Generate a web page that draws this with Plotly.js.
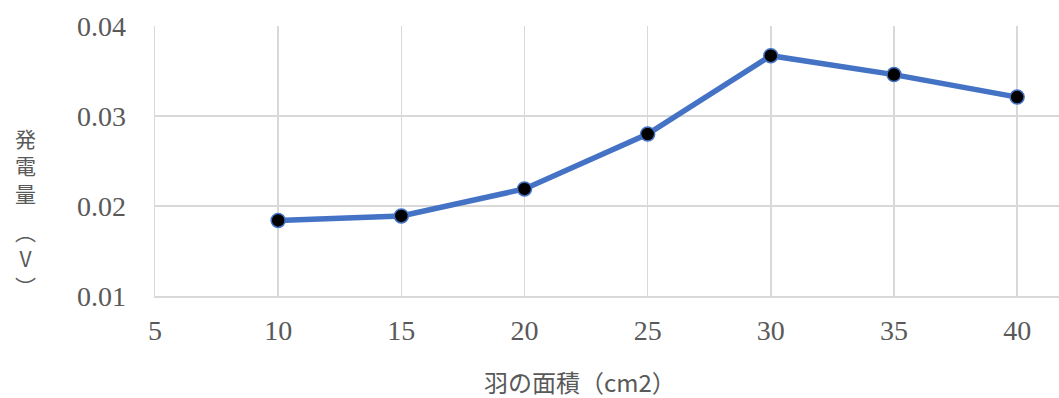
<!DOCTYPE html>
<html>
<head>
<meta charset="utf-8">
<script src="https://cdn.plot.ly/plotly-3.0.1.min.js"></script>
<style>
  html, body { margin: 0; padding: 0; background: #fff; }
  #chart { width: 1059px; height: 398px; }
</style>
</head>
<body>
<div id="chart"></div>
<script>
// 羽の面積 (cm2) と発電量 (V)
const wingArea = [10, 15, 20, 25, 30, 35, 40];
const voltage = [0.0184, 0.0189, 0.0219, 0.0280, 0.0367, 0.0346, 0.0321];

const xTitle = '羽の面積（cm2）';
// vertical y-axis title, stacked glyph by glyph in two groups
const yTitleName = ['発', '電', '量'];
const yTitleUnit = ['︵', 'V', '︶'];

const gray = '#595959';
const gridColor = '#d9d9d9';
const plotTop = 26, plotBottom = 296, plotLeft = 155, plotWidth = 904;

const trace = {
  x: wingArea,
  y: voltage,
  type: 'scatter',
  mode: 'lines+markers',
  line: { color: '#4472C4', width: 5.5 },
  marker: { size: 14, color: '#000000', line: { color: '#4472C4', width: 1.5 } },
  hoverinfo: 'x+y'
};

const toPaperY = px => (plotBottom - px) / (plotBottom - plotTop);
const titleFont = { family: 'Noto Sans CJK JP', size: 21, color: gray };

const annotations = [
  {
    text: yTitleName.join('<br>'),
    xref: 'paper', yref: 'paper',
    x: 0, y: toPaperY(165), xshift: -130,
    xanchor: 'center', yanchor: 'middle',
    showarrow: false, font: titleFont
  },
  {
    text: yTitleUnit.join('<br>'),
    xref: 'paper', yref: 'paper',
    x: 0, y: toPaperY(258), xshift: -130,
    xanchor: 'center', yanchor: 'middle',
    showarrow: false, font: titleFont
  },
  {
    text: xTitle,
    xref: 'paper', yref: 'paper',
    x: (580 - plotLeft) / plotWidth, y: toPaperY(381),
    xanchor: 'center', yanchor: 'middle',
    showarrow: false,
    font: { family: 'Noto Sans CJK JP', size: 24, color: gray }
  }
];

const layout = {
  width: 1059,
  height: 398,
  margin: { l: plotLeft, r: 0, t: plotTop, b: 398 - plotBottom, pad: 0 },
  paper_bgcolor: '#ffffff',
  plot_bgcolor: '#ffffff',
  showlegend: false,
  xaxis: {
    range: [5, 41.7],
    tickmode: 'array',
    tickvals: [5, 10, 15, 20, 25, 30, 35, 40],
    ticktext: ['5', '10', '15', '20', '25', '30', '35', '40'],
    showgrid: true,
    gridcolor: gridColor,
    gridwidth: 1.5,
    showline: true,
    linecolor: gridColor,
    linewidth: 1.5,
    zeroline: false,
    ticks: '',
    ticklabelstandoff: 9,
    tickfont: { family: 'Liberation Serif', size: 28, color: gray }
  },
  yaxis: {
    range: [0.01, 0.04],
    tickmode: 'array',
    tickvals: [0.01, 0.02, 0.03, 0.04],
    ticktext: ['0.01', '0.02', '0.03', '0.04'],
    showgrid: true,
    gridcolor: gridColor,
    gridwidth: 1.5,
    showline: true,
    linecolor: gridColor,
    linewidth: 1.5,
    zeroline: false,
    ticks: '',
    ticklabelstandoff: 22,
    tickfont: { family: 'Liberation Serif', size: 28, color: gray }
  },
  annotations: annotations
};

Plotly.newPlot('chart', [trace], layout, { displayModeBar: false, staticPlot: true });
</script>
</body>
</html>
